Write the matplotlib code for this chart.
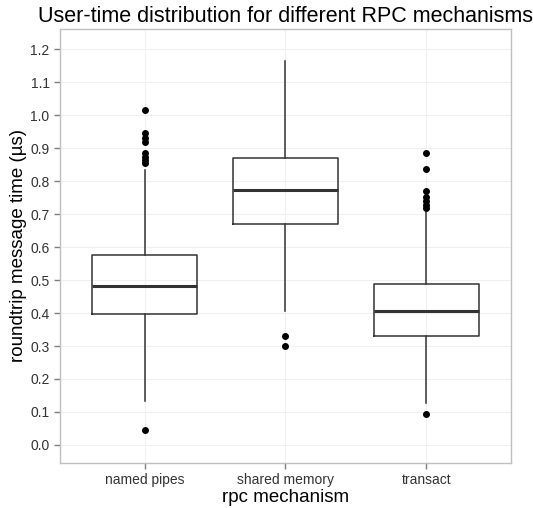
import matplotlib
matplotlib.use('Agg')
import matplotlib.pyplot as plt

plt.rcParams['font.family'] = ['Liberation Sans', 'DejaVu Sans']

# values (µs)
mechanisms = ['named pipes', 'shared memory', 'transact']
q1 = [0.398, 0.670, 0.329]
median = [0.482, 0.774, 0.405]
q3 = [0.575, 0.871, 0.488]
whislo = [0.134, 0.405, 0.127]
whishi = [0.834, 1.166, 0.713]
outliers = [
    [0.046, 0.855, 0.865, 0.875, 0.885, 0.92, 0.93, 0.945, 1.016],
    [0.301, 0.329],
    [0.095, 0.72, 0.728, 0.741, 0.753, 0.771, 0.836, 0.887],
]

stats = []
for i, name in enumerate(mechanisms):
    stats.append(dict(label=name, q1=q1[i], med=median[i], q3=q3[i],
                      whislo=whislo[i], whishi=whishi[i], fliers=outliers[i]))

fig = plt.figure(figsize=(5.33, 5.08), dpi=100)
ax = fig.add_axes([60/533, 1 - 463/508, 451/533, 434/508])

ax.bxp(stats, positions=[1, 2, 3], widths=0.75, showcaps=False,
       boxprops=dict(color='#333333', linewidth=1.1),
       whiskerprops=dict(color='#333333', linewidth=1.1),
       medianprops=dict(color='#333333', linewidth=2.2),
       flierprops=dict(marker='o', markerfacecolor='black', markeredgecolor='black',
                       markersize=4, linestyle='none'))

ax.set_xlim(0.4, 3.6)
ax.set_ylim(-0.055, 1.262)
yt = [i / 10 for i in range(13)]
ax.set_yticks(yt)
ax.set_yticklabels(['%.1f' % v for v in yt])
ax.set_xticks([1, 2, 3])
ax.set_xticklabels(mechanisms)

ax.grid(True, color='#F0F0F0', linewidth=0.8)
ax.set_axisbelow(True)
for s in ax.spines.values():
    s.set_color('#BFBFBF')
    s.set_linewidth(1.0)
ax.tick_params(colors='#7F7F7F', labelcolor='#333333', labelsize=10, length=4, width=1)

ax.set_xlabel('rpc mechanism', fontsize=13.5, labelpad=1)
ax.set_ylabel('roundtrip message time (µs)', fontsize=13.5, labelpad=2)
ax.set_title('User-time distribution for different RPC mechanisms', fontsize=15.5, pad=5)

fig.savefig('out.png', dpi=100, facecolor='white')
